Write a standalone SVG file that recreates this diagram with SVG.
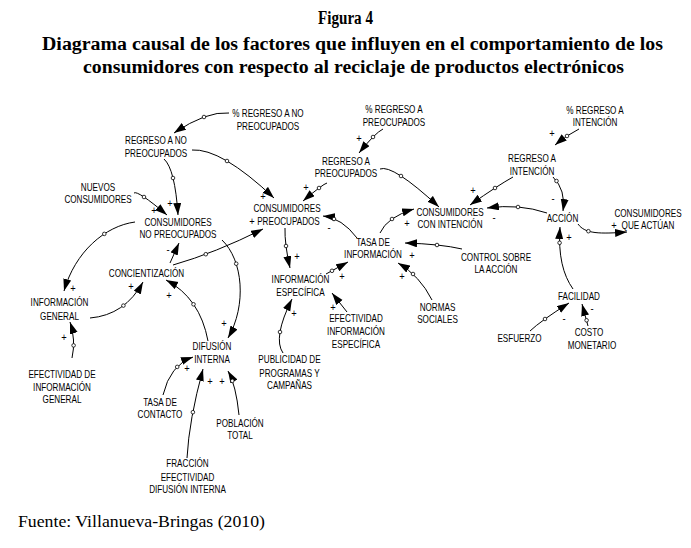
<svg xmlns="http://www.w3.org/2000/svg" width="691" height="548" viewBox="0 0 691 548">
<style>
.lbl{font-family:"Liberation Sans",Arial,sans-serif;font-size:11px;fill:#000;text-anchor:middle}
.pol{font-family:"Liberation Sans",Arial,sans-serif;font-size:11px;fill:#000;text-anchor:middle}
.ln{fill:none;stroke:#000;stroke-width:1;marker-end:url(#ah)}
.h{fill:#fff;stroke:#000;stroke-width:0.8}
.ttl{font-family:"Liberation Serif","Times New Roman",serif;font-weight:bold;font-size:18.5px;fill:#000}
.src{font-family:"Liberation Serif","Times New Roman",serif;font-size:16px;fill:#000}
</style>
<defs>
<marker id="ah" markerUnits="userSpaceOnUse" markerWidth="13" markerHeight="9" refX="12" refY="4" orient="auto">
<path d="M0,0 L12,4 L0,8 z" fill="#000"/>
</marker>
</defs>
<rect width="691" height="548" fill="#fff"/>
<g id="title">
<text class="ttl" x="318" y="24" textLength="55" lengthAdjust="spacingAndGlyphs">Figura 4</text>
<text class="ttl" x="42" y="50" textLength="621" lengthAdjust="spacingAndGlyphs">Diagrama causal de los factores que influyen en el comportamiento de los</text>
<text class="ttl" x="83" y="73" textLength="541" lengthAdjust="spacingAndGlyphs">consumidores con respecto al reciclaje de productos electrónicos</text>
</g>
<g id="connectors">
<path class="ln" d="M229,113 Q206.5,111 174,133"/><circle class="h" cx="204" cy="117" r="1.8"/>
<path class="ln" d="M164,159 Q175,169 178,215"/><circle class="h" cx="173" cy="178" r="1.8"/>
<path class="ln" d="M192,150 Q221,148 274,198"/><circle class="h" cx="227" cy="161" r="1.8"/>
<path class="ln" d="M134,193 Q137.5,190 167,215"/><circle class="h" cx="144" cy="197" r="1.8"/>
<path class="ln" d="M383,129 Q375,133 359,153"/><circle class="h" cx="373" cy="137" r="1.8"/>
<path class="ln" d="M327,183 Q323,184 303,201"/><circle class="h" cx="319" cy="188" r="1.8"/>
<path class="ln" d="M380,169 Q392.5,164 439,207"/><circle class="h" cx="401" cy="176" r="1.8"/>
<path class="ln" d="M357,238 Q342,218 323,216"/><circle class="h" cx="334" cy="219" r="1.8"/>
<path class="ln" d="M380,233 Q387,217 414,209"/><circle class="h" cx="392" cy="219" r="1.8"/>
<path class="ln" d="M462,249 Q440.5,244 405,243"/><circle class="h" cx="437" cy="245" r="1.8"/>
<path class="ln" d="M432,300 Q420,276 398,263"/><circle class="h" cx="413" cy="274" r="1.8"/>
<path class="ln" d="M326,274 L348,262"/><circle class="h" cx="332" cy="270.8" r="1.8"/>
<path class="ln" d="M285,228 Q284.5,244 290,268"/><circle class="h" cx="286" cy="246" r="1.8"/>
<path class="ln" d="M283,353 Q272.5,338 292,299"/><circle class="h" cx="280" cy="332" r="1.8"/>
<path class="ln" d="M347,312 L332,293"/>
<path class="ln" d="M579,129 Q567,135 555,145"/><circle class="h" cx="567" cy="136" r="1.8"/>
<path class="ln" d="M513,177 Q498.5,185 470,205"/><circle class="h" cx="495" cy="188" r="1.8"/>
<path class="ln" d="M553,177 Q566,190 563,211"/><circle class="h" cx="556.5" cy="181" r="1.8"/>
<path class="ln" d="M547,213 Q519,203.5 487,208"/><circle class="h" cx="518" cy="207" r="1.8"/>
<path class="ln" d="M578,224 C585,234 600,234 627,232"/><circle class="h" cx="588.4" cy="231.2" r="1.8"/>
<path class="ln" d="M573,289 C563,275 558,255 560,227"/><circle class="h" cx="559.6" cy="242.8" r="1.8"/>
<path class="ln" d="M530,331 Q540.5,321 569,303"/><circle class="h" cx="545" cy="319" r="1.8"/>
<path class="ln" d="M588,326 L582,304"/><circle class="h" cx="586.6" cy="320.3" r="1.8"/>
<path class="ln" d="M135,222 C105,226 75,252 64,291"/><circle class="h" cx="104.3" cy="233.9" r="1.8"/>
<path class="ln" d="M90,318 Q125,315 143,282"/><circle class="h" cx="123.4" cy="305.6" r="1.8"/>
<path class="ln" d="M72,358 Q76,340 70,322"/><circle class="h" cx="73.6" cy="345.4" r="1.8"/>
<path class="ln" d="M170,263 L179,243"/>
<path class="ln" d="M173,265 Q215,253 263,229"/><circle class="h" cx="205.8" cy="254.2" r="1.8"/>
<path class="ln" d="M208,341 Q200,298 166,280"/><circle class="h" cx="193.5" cy="304.3" r="1.8"/>
<path class="ln" d="M222,240 C243,260 247,305 228,338"/><circle class="h" cx="236.2" cy="263.7" r="1.8"/>
<path class="ln" d="M163,395 Q170,365 193,357"/><circle class="h" cx="177.2" cy="366.9" r="1.8"/>
<path class="ln" d="M187,458 Q189,420 203,369"/><circle class="h" cx="192.9" cy="412.2" r="1.8"/>
<path class="ln" d="M239,415 Q236,385 228,371"/><circle class="h" cx="232.3" cy="380.9" r="1.8"/>
</g>
<g id="polarities">
<text class="pol" transform="translate(170,207) scale(0.85,1)">+</text>
<text class="pol" transform="translate(263,200) scale(0.85,1)">+</text>
<text class="pol" transform="translate(154,214) scale(0.85,1)">+</text>
<text class="pol" transform="translate(359,142) scale(0.85,1)">+</text>
<text class="pol" transform="translate(306,191) scale(0.85,1)">+</text>
<text class="pol" transform="translate(329,231) scale(0.85,1)">-</text>
<text class="pol" transform="translate(407,227) scale(0.85,1)">+</text>
<text class="pol" transform="translate(412,259) scale(0.85,1)">+</text>
<text class="pol" transform="translate(402,280) scale(0.85,1)">+</text>
<text class="pol" transform="translate(342,280) scale(0.85,1)">+</text>
<text class="pol" transform="translate(297,260) scale(0.85,1)">+</text>
<text class="pol" transform="translate(294,317) scale(0.85,1)">+</text>
<text class="pol" transform="translate(333,311) scale(0.85,1)">+</text>
<text class="pol" transform="translate(552,137) scale(0.85,1)">+</text>
<text class="pol" transform="translate(473,194) scale(0.85,1)">+</text>
<text class="pol" transform="translate(553,202) scale(0.85,1)">-</text>
<text class="pol" transform="translate(494,221) scale(0.85,1)">-</text>
<text class="pol" transform="translate(614,229) scale(0.85,1)">+</text>
<text class="pol" transform="translate(569,241) scale(0.85,1)">+</text>
<text class="pol" transform="translate(564,322) scale(0.85,1)">-</text>
<text class="pol" transform="translate(592,312) scale(0.85,1)">-</text>
<text class="pol" transform="translate(73,292) scale(0.85,1)">+</text>
<text class="pol" transform="translate(131,290) scale(0.85,1)">+</text>
<text class="pol" transform="translate(64,341) scale(0.85,1)">+</text>
<text class="pol" transform="translate(168,253) scale(0.85,1)">-</text>
<text class="pol" transform="translate(252,225) scale(0.85,1)">+</text>
<text class="pol" transform="translate(169,299) scale(0.85,1)">+</text>
<text class="pol" transform="translate(224,327) scale(0.85,1)">+</text>
<text class="pol" transform="translate(187,372) scale(0.85,1)">+</text>
<text class="pol" transform="translate(210,385) scale(0.85,1)">+</text>
<text class="pol" transform="translate(222,385) scale(0.85,1)">+</text>
</g>
<g id="n-pct-nopreoc" transform="translate(268,0) scale(0.74,1)"><text class="lbl"><tspan x="0" y="117">% REGRESO A NO</tspan><tspan x="0" y="130">PREOCUPADOS</tspan></text></g>
<g id="n-reg-nopreoc" transform="translate(156,0) scale(0.74,1)"><text class="lbl"><tspan x="0" y="144">REGRESO A NO</tspan><tspan x="0" y="157">PREOCUPADOS</tspan></text></g>
<g id="n-nuevos" transform="translate(98,0) scale(0.74,1)"><text class="lbl"><tspan x="0" y="191">NUEVOS</tspan><tspan x="0" y="203">CONSUMIDORES</tspan></text></g>
<g id="n-cons-nopreoc" transform="translate(178,0) scale(0.74,1)"><text class="lbl"><tspan x="0" y="226">CONSUMIDORES</tspan><tspan x="0" y="238">NO PREOCUPADOS</tspan></text></g>
<g id="n-pct-preoc" transform="translate(394,0) scale(0.74,1)"><text class="lbl"><tspan x="0" y="113">% REGRESO A</tspan><tspan x="0" y="126">PREOCUPADOS</tspan></text></g>
<g id="n-reg-preoc" transform="translate(346,0) scale(0.74,1)"><text class="lbl"><tspan x="0" y="165">REGRESO A</tspan><tspan x="0" y="177">PREOCUPADOS</tspan></text></g>
<g id="n-cons-preoc" transform="translate(287,0) scale(0.74,1)"><text class="lbl"><tspan x="0" y="212">CONSUMIDORES</tspan><tspan x="2" y="225">PREOCUPADOS</tspan></text></g>
<g id="n-cons-int" transform="translate(450,0) scale(0.74,1)"><text class="lbl"><tspan x="0" y="216">CONSUMIDORES</tspan><tspan x="0" y="228">CON INTENCIÓN</tspan></text></g>
<g id="n-tasa-info" transform="translate(373,0) scale(0.74,1)"><text class="lbl"><tspan x="0" y="246">TASA DE</tspan><tspan x="0" y="258">INFORMACIÓN</tspan></text></g>
<g id="n-control" transform="translate(496,0) scale(0.74,1)"><text class="lbl"><tspan x="0" y="261">CONTROL SOBRE</tspan><tspan x="0" y="273">LA ACCIÓN</tspan></text></g>
<g id="n-pct-int" transform="translate(595,0) scale(0.74,1)"><text class="lbl"><tspan x="0" y="114">% REGRESO A</tspan><tspan x="0" y="126">INTENCIÓN</tspan></text></g>
<g id="n-reg-int" transform="translate(532,0) scale(0.74,1)"><text class="lbl"><tspan x="0" y="162">REGRESO A</tspan><tspan x="0" y="175">INTENCIÓN</tspan></text></g>
<g id="n-accion" transform="translate(562.5,0) scale(0.74,1)"><text class="lbl"><tspan x="0" y="222">ACCIÓN</tspan></text></g>
<g id="n-cons-act" transform="translate(648,0) scale(0.74,1)"><text class="lbl"><tspan x="0" y="217">CONSUMIDORES</tspan><tspan x="0" y="229">QUE ACTÚAN</tspan></text></g>
<g id="n-facilidad" transform="translate(579,0) scale(0.74,1)"><text class="lbl"><tspan x="0" y="300">FACILIDAD</tspan></text></g>
<g id="n-esfuerzo" transform="translate(519.5,0) scale(0.74,1)"><text class="lbl"><tspan x="0" y="342">ESFUERZO</tspan></text></g>
<g id="n-costo" transform="translate(592,0) scale(0.74,1)"><text class="lbl"><tspan x="-4" y="336">COSTO</tspan><tspan x="0" y="349">MONETARIO</tspan></text></g>
<g id="n-normas" transform="translate(437.5,0) scale(0.74,1)"><text class="lbl"><tspan x="0" y="311">NORMAS</tspan><tspan x="0" y="323">SOCIALES</tspan></text></g>
<g id="n-concient" transform="translate(146.5,0) scale(0.74,1)"><text class="lbl"><tspan x="0" y="277">CONCIENTIZACIÓN</tspan></text></g>
<g id="n-info-gen" transform="translate(59.5,0) scale(0.74,1)"><text class="lbl"><tspan x="0" y="306">INFORMACIÓN</tspan><tspan x="0" y="320">GENERAL</tspan></text></g>
<g id="n-efect-gen" transform="translate(62,0) scale(0.74,1)"><text class="lbl"><tspan x="0" y="378">EFECTIVIDAD DE</tspan><tspan x="0" y="391">INFORMACIÓN</tspan><tspan x="0" y="403">GENERAL</tspan></text></g>
<g id="n-difusion" transform="translate(212,0) scale(0.74,1)"><text class="lbl"><tspan x="0" y="350">DIFUSIÓN</tspan><tspan x="0" y="363">INTERNA</tspan></text></g>
<g id="n-tasa-contacto" transform="translate(160,0) scale(0.74,1)"><text class="lbl"><tspan x="0" y="406">TASA DE</tspan><tspan x="0" y="418">CONTACTO</tspan></text></g>
<g id="n-poblacion" transform="translate(240,0) scale(0.74,1)"><text class="lbl"><tspan x="0" y="427">POBLACIÓN</tspan><tspan x="0" y="439">TOTAL</tspan></text></g>
<g id="n-fraccion" transform="translate(187.5,0) scale(0.74,1)"><text class="lbl"><tspan x="0" y="467">FRACCIÓN</tspan><tspan x="0" y="481">EFECTIVIDAD</tspan><tspan x="0" y="493">DIFUSIÓN INTERNA</tspan></text></g>
<g id="n-info-esp" transform="translate(300.5,0) scale(0.74,1)"><text class="lbl"><tspan x="0" y="283">INFORMACIÓN</tspan><tspan x="0" y="296">ESPECÍFICA</tspan></text></g>
<g id="n-efect-esp" transform="translate(356,0) scale(0.74,1)"><text class="lbl"><tspan x="0" y="322">EFECTIVIDAD</tspan><tspan x="0" y="335">INFORMACIÓN</tspan><tspan x="0" y="348">ESPECÍFICA</tspan></text></g>
<g id="n-publicidad" transform="translate(289.5,0) scale(0.74,1)"><text class="lbl"><tspan x="0" y="363">PUBLICIDAD DE</tspan><tspan x="0" y="377">PROGRAMAS Y</tspan><tspan x="0" y="389">CAMPAÑAS</tspan></text></g>
<g id="source">
<text class="src" x="18" y="527" textLength="247" lengthAdjust="spacingAndGlyphs">Fuente: Villanueva-Bringas (2010)</text>
</g>
</svg>
